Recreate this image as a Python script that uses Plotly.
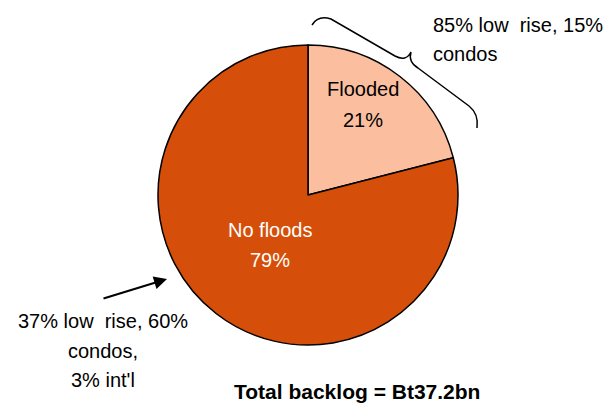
import plotly.graph_objects as go

# ---- data ----
labels = ["Flooded", "No floods"]
values = [21, 79]
slice_colors = ["#FBBF9F", "#D54F0A"]
label_font_colors = ["#000000", "#FFFFFF"]
flooded_note = ["85% low  rise, 15%", "condos"]
noflood_note = ["37% low  rise, 60%", "condos,", "3% int'l"]
total_text = "Total backlog = Bt37.2bn"

W, H = 614, 405

def px(x):
    return x / W

def py(y):
    return 1 - y / H

fig = go.Figure()
fig.add_trace(go.Pie(
    labels=labels,
    values=values,
    sort=False,
    direction="clockwise",
    rotation=0,
    marker=dict(colors=slice_colors, line=dict(color="#000000", width=1.5)),
    textinfo="none",
    hoverinfo="label+percent",
    showlegend=False,
    domain=dict(x=[px(158), px(458)], y=[py(345), py(45)]),
))

FONT = "Liberation Sans, Arial, sans-serif"
ann = []
# in-slice labels (label line + percentage line)
slice_label_pos = [(363, 89, 120), (270, 230, 260)]
for lab, val, col, (cx, y1, y2) in zip(labels, values, label_font_colors, slice_label_pos):
    ann.append(dict(x=px(cx), y=py(y1), xref="paper", yref="paper", text=lab,
                    showarrow=False, font=dict(family=FONT, size=20, color=col),
                    xanchor="center", yanchor="middle"))
    ann.append(dict(x=px(cx), y=py(y2), xref="paper", yref="paper", text=f"{val}%",
                    showarrow=False, font=dict(family=FONT, size=20, color=col),
                    xanchor="center", yanchor="middle"))

# flooded note (top right), left-aligned
for i, t in enumerate(flooded_note):
    ann.append(dict(x=px(431), y=py(25 + 29 * i), xref="paper", yref="paper", text=t,
                    showarrow=False, font=dict(family=FONT, size=20, color="#000000"),
                    xanchor="left", yanchor="middle"))

# no-flood note (bottom left), centered
for i, t in enumerate(noflood_note):
    ann.append(dict(x=px(103), y=py(321 + 29.5 * i), xref="paper", yref="paper", text=t,
                    showarrow=False, font=dict(family=FONT, size=20, color="#000000"),
                    xanchor="center", yanchor="middle"))

# arrow (tail offset given in pixels)
ann.append(dict(x=px(167), y=py(279), ax=-65, ay=20,
                xref="paper", yref="paper", axref="pixel", ayref="pixel",
                text="", showarrow=True, arrowhead=2, arrowsize=1.3,
                arrowwidth=2, arrowcolor="#000000"))

# total
ann.append(dict(x=px(357), y=py(391), xref="paper", yref="paper", text=f"<b>{total_text}</b>",
                showarrow=False, font=dict(family=FONT, size=21, color="#000000"),
                xanchor="center", yanchor="middle"))

# curly brace
pts = [("M", 312, 25), ("Q", 318, 15, 331, 19), ("L", 395, 56), ("Q", 406, 62, 411, 52),
       ("Q", 408, 62, 418, 68), ("L", 469, 106), ("Q", 479, 114, 477, 128)]
path = ""
for p in pts:
    cmd = p[0]
    coords = p[1:]
    s = []
    for j in range(0, len(coords), 2):
        s.append(f"{px(coords[j]):.5f},{py(coords[j+1]):.5f}")
    path += cmd + " " + " ".join(s) + " "

fig.update_layout(
    width=W, height=H,
    margin=dict(l=0, r=0, t=0, b=0),
    paper_bgcolor="#FFFFFF",
    plot_bgcolor="#FFFFFF",
    annotations=ann,
    shapes=[dict(type="path", path=path.strip(), xref="paper", yref="paper",
                 line=dict(color="#000000", width=1.5))],
)

fig.write_html("out.html")
